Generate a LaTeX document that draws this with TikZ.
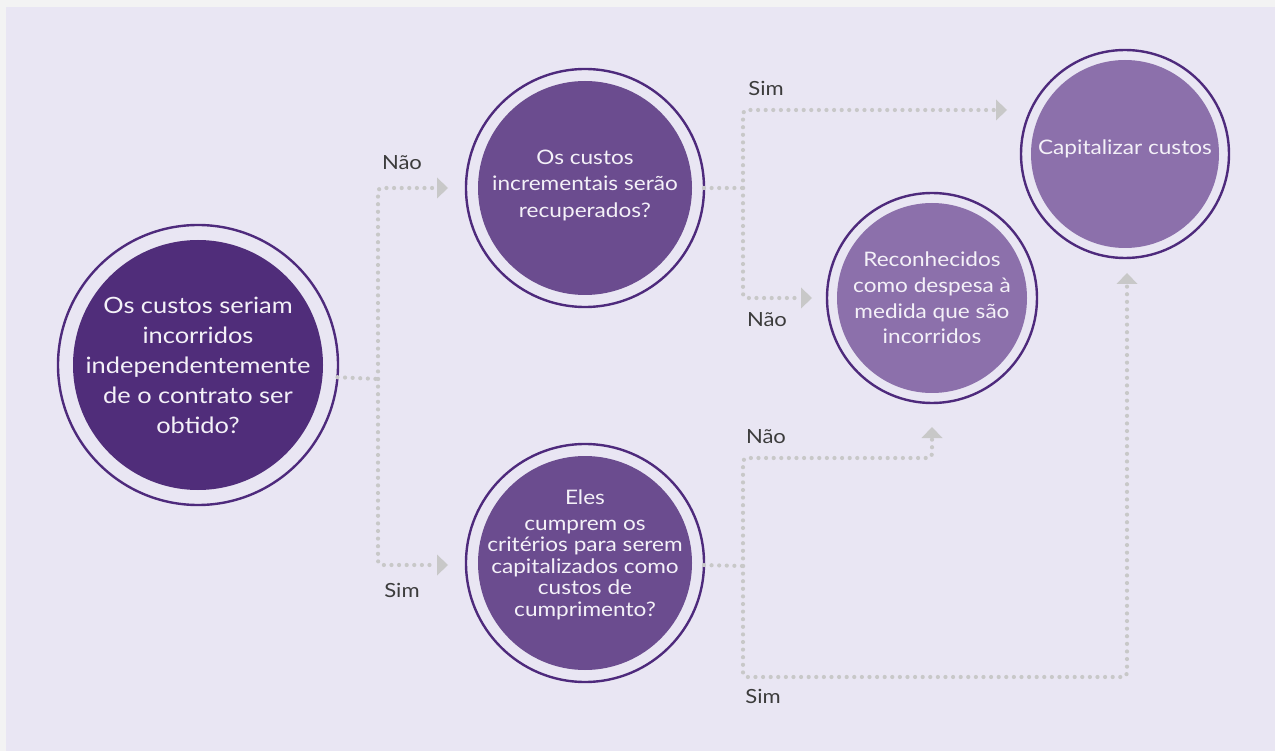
\documentclass[tikz,border=0pt]{standalone}
\usepackage{fontspec}
\setmainfont{Lato}[FakeStretch=1.13]
\usetikzlibrary{arrows.meta}

\definecolor{pagegray}{HTML}{F3F3F3}
\definecolor{panel}{HTML}{E9E6F3}
\definecolor{ring}{HTML}{4E2A7C}
\definecolor{deep}{HTML}{502D7A}
\definecolor{mid}{HTML}{6B4C8F}
\definecolor{soft}{HTML}{8C70AB}
\definecolor{dotgray}{HTML}{C8C8C8}
\definecolor{labelgray}{HTML}{3C3C3C}
\definecolor{txt}{HTML}{F4F1F8}

\tikzset{
  % ringed disc: #1 outer diameter, #2 inner radius, #3 fill colour
  disc/.style n args={3}{circle, draw=ring, line width=2.4pt, fill=panel,
    minimum size=#1pt, inner sep=0pt, outer sep=0pt,
    path picture={\fill[#3] (path picture bounding box.center) circle (#2pt);}},
  ctext/.style={text=txt, align=center, inner sep=0pt},
  conn/.style={draw=dotgray, line width=4.2pt, line cap=round,
    dash pattern=on 0pt off 7.6pt, rounded corners=4pt},
  tip/.style={-{Triangle[length=11pt,width=21pt,line width=0pt]}},
  lbl/.style={text=labelgray, inner sep=0pt, font=\fontsize{19.5}{22}\selectfont},
}

\begin{document}
\begin{tikzpicture}[x=1pt,y=-1pt]
  % page and panel
  \fill[pagegray] (0,0) rectangle (1275,751);
  \fill[panel] (6,7) rectangle (1275,751);
  \useasboundingbox (0,0) rectangle (1275,751);

  % decision discs
  \node[disc={280}{125}{deep}] (A) at (198,365) {};
  \node[disc={238}{107}{mid}]  (B) at (585,188) {};
  \node[disc={238}{107}{mid}]  (C) at (585,563) {};
  \node[disc={210}{95}{soft}]  (D) at (932,298) {};
  \node[disc={208}{94}{soft}]  (E) at (1125,154) {};

  % disc texts
  \node[ctext, font=\fontsize{22.5}{30}\selectfont] (At) at (A)
    {Os custos seriam\\incorridos\\independentemente\\de o contrato ser\\obtido?};
  \node[ctext, font=\fontsize{20}{26.5}\selectfont, yshift=3pt] (Bt) at (B)
    {Os custos\\incrementais serão\\recuperados?};
  \node[ctext, font=\fontsize{20}{21.5}\selectfont, yshift=8pt] (Ct) at (C)
    {Eles\\[4pt]cumprem os\\critérios para serem\\capitalizados como\\custos de\\cumprimento?};
  \node[ctext, font=\fontsize{20}{25.7}\selectfont] (Dt) at (D)
    {Reconhecidos\\como despesa à\\medida que são\\incorridos};
  \node[ctext, font=\fontsize{20}{24}\selectfont, yshift=5pt] (Et) at (E)
    {Capitalizar custos};

  % junctions and arrow tips
  \coordinate (jA)  at (378,379);
  \coordinate (tB)  at (448,188);
  \coordinate (tC)  at (448,565);
  \coordinate (jB)  at (743,188);
  \coordinate (tE1) at (1007,110);
  \coordinate (tD1) at (812,298);
  \coordinate (jC)  at (743,566);
  \coordinate (tD2) at (932,427);
  \coordinate (tE2) at (1127,273);

  % first question
  \draw[conn] (A.-5.7) -- (jA);
  \draw[conn,tip] (jA) |- (tB);
  \draw[conn,tip] (jA) |- (tC);

  % incremental costs question
  \draw[conn] (B.east) -- (jB);
  \draw[conn,tip] (jB) |- (tE1);
  \draw[conn,tip] (jB) |- (tD1);

  % fulfilment costs question
  \draw[conn] (C.-1) -- (jC);
  \draw[conn,tip] (jC) |- (932,458) -- (tD2);
  \draw[conn,tip] (jC) |- (1127,677) -- (tE2);

  % branch labels
  \node[lbl] (l1) at (402,163) {Não};
  \node[lbl] (l2) at (402,590) {Sim};
  \node[lbl] (l3) at (766,88)  {Sim};
  \node[lbl] (l4) at (767,320) {Não};
  \node[lbl] (l5) at (766,437) {Não};
  \node[lbl] (l6) at (763,696) {Sim};
\end{tikzpicture}
\end{document}
